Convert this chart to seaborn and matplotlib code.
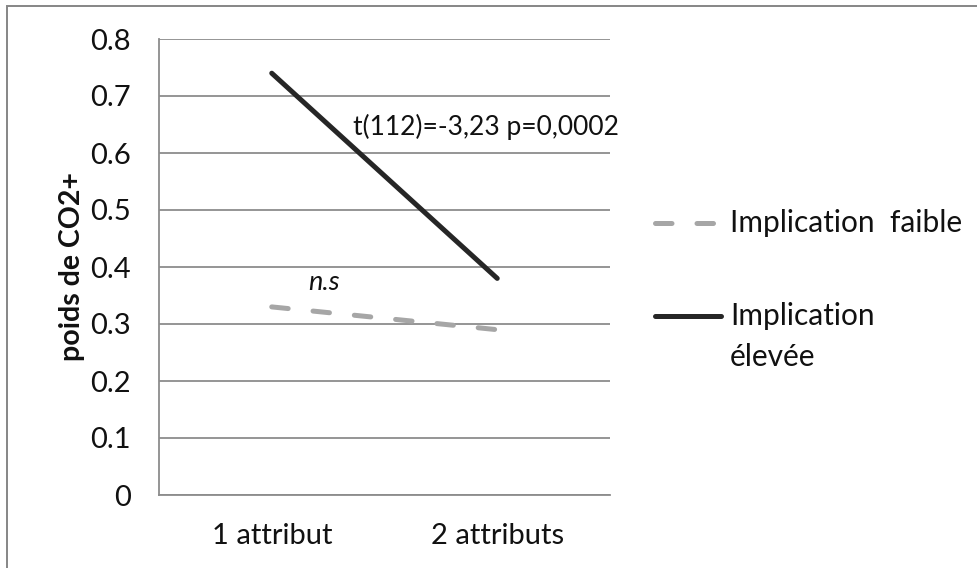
import pandas as pd
import matplotlib.pyplot as plt
import seaborn as sns
from matplotlib.lines import Line2D
from matplotlib.patches import Rectangle

# values
conditions = ["1 attribut", "2 attributs"]
faible = [0.33, 0.29]
elevee = [0.74, 0.38]
series_names = ["Implication faible", "Implication élevée"]
y_ticks = [0, 0.1, 0.2, 0.3, 0.4, 0.5, 0.6, 0.7, 0.8]
y_labels = ["0", "0.1", "0.2", "0.3", "0.4", "0.5", "0.6", "0.7", "0.8"]

df = pd.DataFrame({
    "condition": conditions * 2,
    "poids": faible + elevee,
    "implication": [series_names[0]] * 2 + [series_names[1]] * 2,
})

sns.set_style("white")
plt.rcParams["font.family"] = ["Lato", "DejaVu Sans"]

GRID = "#8c8c8c"
TXT = "#111111"
fig = plt.figure(figsize=(9.78, 5.68), dpi=100)
W, H = 978, 568
ax = fig.add_axes([159 / W, 1 - 495 / H, (610 - 159) / W, (495 - 39) / H])

sns.lineplot(data=df, x="condition", y="poids", hue="implication", style="implication",
             palette={series_names[0]: "#a6a6a6", series_names[1]: "#262626"},
             dashes={series_names[0]: (3.3, 5.0), series_names[1]: ""},
             linewidth=3.6, sort=False, legend=False, ax=ax,
             solid_capstyle="round", dash_capstyle="round")

ax.set_xlim(-0.5, 1.5)
ax.set_ylim(0, 0.8)
ax.set_yticks(y_ticks)
ax.set_yticklabels(y_labels)
ax.set_xticks([0, 1])
ax.set_xticklabels(conditions)
ax.set_xticks([-0.5, 0.5, 1.5], minor=True)
ax.tick_params(axis="x", which="major", length=0, pad=20, labelsize=21, colors=TXT)
ax.tick_params(axis="x", which="minor", length=7.5, width=1.3, color=GRID, direction="out")
ax.tick_params(axis="y", length=6.5, width=1.3, color=GRID, pad=14, labelsize=21, labelcolor=TXT)
ax.set_xlabel("")
ax.set_ylabel("poids de CO2+", fontsize=20.5, fontweight="bold", color=TXT)
ax.yaxis.set_label_coords(-0.165, 0.5)

ax.yaxis.grid(True, color=GRID, lw=1.3)
ax.set_axisbelow(True)
for side in ["top", "right"]:
    ax.spines[side].set_visible(False)
for side in ["left", "bottom"]:
    ax.spines[side].set_color(GRID)
    ax.spines[side].set_linewidth(1.3)

# annotations
ax.text(0.36, 0.6456, "t(112)=-3,23 p=0,0002", fontsize=19, va="center", ha="left", color=TXT)
ax.text(0.16, 0.372, "n.s", fontsize=19.5, style="italic", va="center", ha="left", color=TXT)

# legend drawn by hand (second label wraps on two lines)
def fx(px):
    return px / W

def fy(py):
    return 1 - py / H

fig.add_artist(Line2D([fx(655), fx(714)], [fy(223), fy(223)], color="#a6a6a6", lw=3.6,
                      dashes=(3.3, 5.0), dash_capstyle="round", solid_capstyle="round"))
fig.text(fx(730), fy(223), "Implication  faible", fontsize=21.5, va="center", ha="left", color=TXT)
fig.add_artist(Line2D([fx(655), fx(721)], [fy(316), fy(316)], color="#262626", lw=3.6,
                      solid_capstyle="round"))
fig.text(fx(730), fy(316), "Implication", fontsize=21.5, va="center", ha="left", color=TXT)
fig.text(fx(730), fy(357), "élevée", fontsize=21.5, va="center", ha="left", color=TXT)

# chart border (only top and left edges visible in the crop)
fig.add_artist(Rectangle((fx(7), -0.1), 2, fy(6) + 0.1, fill=False, edgecolor="#868686", lw=1.4))

fig.savefig("out.png", dpi=100)
